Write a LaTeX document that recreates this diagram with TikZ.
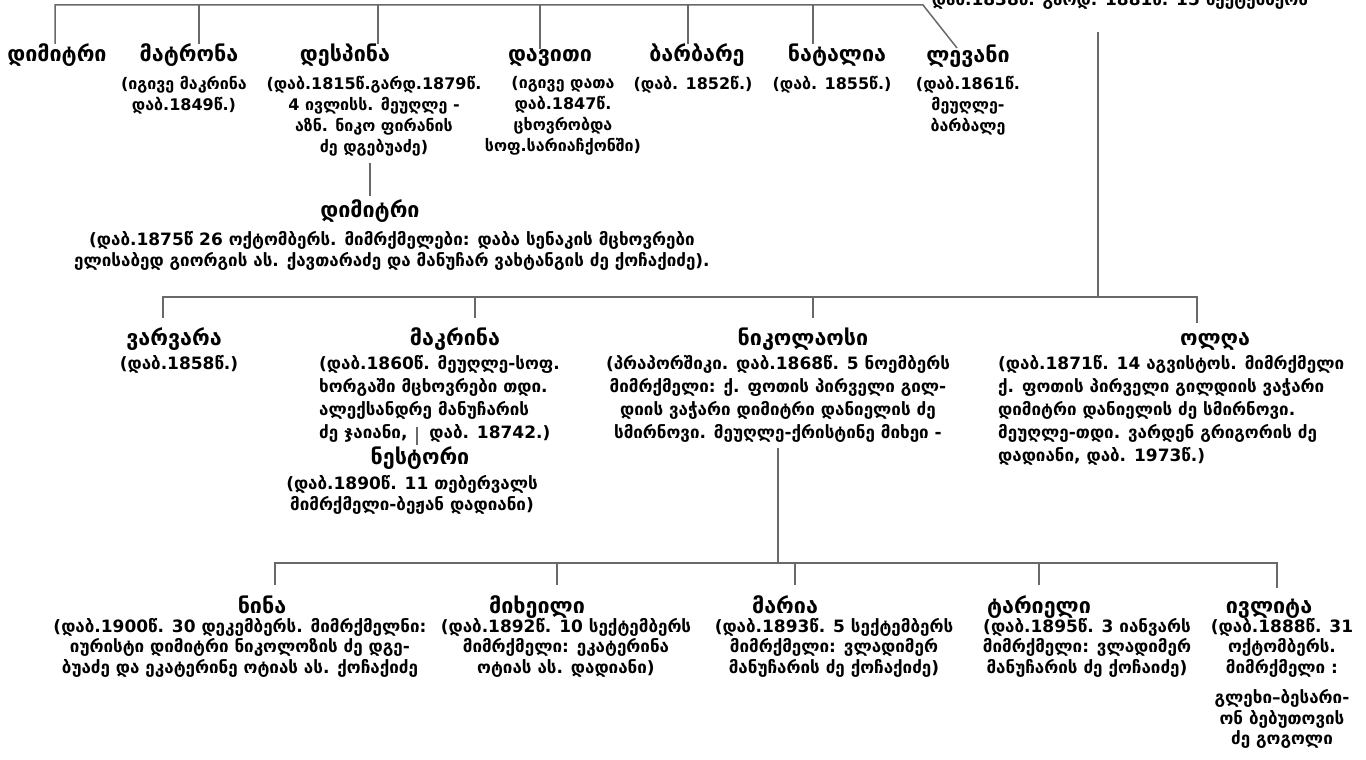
\documentclass[tikz,border=0pt]{standalone}
\usepackage{fontspec}
\newfontfamily\geo{DejaVu Sans}
\definecolor{linegray}{RGB}{105,105,105}
\begin{document}
\begin{tikzpicture}[x=1pt,y=-1pt,
  pname/.style={font=\geo\bfseries\fontsize{21.5}{24}\selectfont, inner sep=0pt, anchor=base},
  pinfo/.style={font=\geo\bfseries\fontsize{17}{21}\selectfont, inner sep=0pt, align=center, anchor=north},
  infoA/.style={pinfo, font=\geo\bfseries\fontsize{16}{21}\selectfont},
  infoB/.style={pinfo, font=\geo\bfseries\fontsize{17}{23}\selectfont},
  infoC/.style={pinfo, font=\geo\bfseries\fontsize{17}{20.5}\selectfont},
  tree/.style={draw=linegray, line width=1.5pt},
]
\useasboundingbox (0,0) rectangle (1366,760);
% header (clipped at top, as in the reference)
\node[pinfo, anchor=base] (hdr) at (1120,6) {დაბ.1838წ. გარდ. 1881წ. 15 სექტემბერს};
% ---------- generation 1
\node[pname] (n11) at (57,62) {დიმიტრი};
\node[pname] (n12) at (189,62) {მატრონა};
\node[pname] (n13) at (345,62) {დესპინა};
\node[pname] (n14) at (550,62) {დავითი};
\node[pname] (n15) at (697,62) {ბარბარე};
\node[pname] (n16) at (837,62) {ნატალია};
\node[pname] (n17) at (968,63) {ლევანი};
\node[infoA] (i12) at (184,76) {(იგივე მაკრინა\\დაბ.1849წ.)};
\node[infoA] (i13) at (374,76) {(დაბ.1815წ.გარდ.1879წ.\\4 ივლისს. მეუღლე -\\აზნ. ნიკო ფირანის\\ძე დგებუაძე)};
\node[infoA] (i14) at (563,76) {(იგივე დათა\\დაბ.1847წ.\\ცხოვრობდა\\სოფ.სარიაჩქონში)};
\node[infoA] (i15) at (693,76) {(დაბ. 1852წ.)};
\node[infoA] (i16) at (832,76) {(დაბ. 1855წ.)};
\node[infoA] (i17) at (968,76) {(დაბ.1861წ.\\მეუღლე-\\ბარბალე};
\coordinate (t0) at (55,5);
\coordinate (t1) at (199,5);
\coordinate (t2) at (378,5);
\coordinate (t3) at (540,5);
\coordinate (t4) at (688,5);
\coordinate (t5) at (813,5);
\coordinate (tE) at (923,5);
\coordinate (levtop) at (957,48);
\draw[tree] (t0 |- n11.north) -- (t0) -- (tE) -- (levtop);
\draw[tree] (t1) -- (t1 |- n12.north);
\draw[tree] (t2) -- (t2 |- n13.north);
\draw[tree] (t3) -- (t3 |- n14.north);
\draw[tree] (t4) -- (t4 |- n15.north);
\draw[tree] (t5) -- (t5 |- n16.north);
% ---------- Dimitri (son of Despina)
\node[pname] (n2) at (370,217) {დიმიტრი};
\node[pinfo] (i2) at (392,231) {(დაბ.1875წ 26 ოქტომბერს. მიმრქმელები: დაბა სენაკის მცხოვრები\\ელისაბედ გიორგის ას. ქავთარაძე და მანუჩარ ვახტანგის ძე ქოჩაქიძე).};
\coordinate (ds) at (370,163);
\draw[tree] (ds) -- ([yshift=3pt]n2.north -| ds);
% ---------- trunk
\coordinate (trTop) at (1098,32);
\coordinate (trBot) at (1098,297);
\draw[tree] (trTop) -- (trBot);
% ---------- generation 2
\node[pname] (n21) at (174,345) {ვარვარა};
\node[pname] (n22) at (455,345) {მაკრინა};
\node[pname] (n23) at (803,345) {ნიკოლაოსი};
\node[pname] (n24) at (1215,345) {ოლღა};
\node[infoB] (i21) at (179,355) {(დაბ.1858წ.)};
\node[infoB, align=left, anchor=north west] (i22) at (319,355) {(დაბ.1860წ. მეუღლე-სოფ.\\ხორგაში მცხოვრები თდი.\\ალექსანდრე მანუჩარის\\ძე ჯაიანი,\hspace{22pt}დაბ. 18742.)};
\node[infoB] (i23) at (778,355) {(პრაპორშიკი. დაბ.1868წ. 5 ნოემბერს\\მიმრქმელი: ქ. ფოთის პირველი გილ-\\დიის ვაჭარი დიმიტრი დანიელის ძე\\სმირნოვი. მეუღლე-ქრისტინე მიხეი -};
\node[infoB, align=left, anchor=north west] (i24) at (998,355) {(დაბ.1871წ. 14 აგვისტოს. მიმრქმელი\\ქ. ფოთის პირველი გილდიის ვაჭარი\\დიმიტრი დანიელის ძე სმირნოვი.\\მეუღლე-თდი. ვარდენ გრიგორის ძე\\დადიანი, დაბ. 1973წ.)};
\coordinate (r0) at (163,297);
\coordinate (r1) at (475,297);
\coordinate (r2) at (813,297);
\coordinate (r3) at (1197,297);
\draw[tree] ([yshift=9pt]r0 |- n21.north) -- (r0) -- (r3) -- ([yshift=9pt]r3 |- n24.north);
\draw[tree] (r1) -- ([yshift=9pt]r1 |- n22.north);
\draw[tree] (r2) -- ([yshift=9pt]r2 |- n23.north);
% ---------- Nestori
\node[pname] (n3) at (420,464) {ნესტორი};
\node[pinfo] (i3) at (412,475) {(დაბ.1890წ. 11 თებერვალს\\მიმრქმელი-ბეჟან დადიანი)};
\coordinate (mk) at (417,427);
\draw[tree] (mk) -- ([yshift=1pt]n3.north -| mk);
% ---------- generation 3
\coordinate (nk) at (778,448);
\coordinate (s0) at (275,563);
\coordinate (s1) at (557,563);
\coordinate (s2) at (778,563);
\coordinate (s3) at (795,563);
\coordinate (s4) at (1039,563);
\coordinate (s5) at (1277,563);
\draw[tree] (nk) -- (s2);
\node[pname] (n31) at (262,613) {ნინა};
\node[pname] (n32) at (537,613) {მიხეილი};
\node[pname] (n33) at (785,613) {მარია};
\node[pname] (n34) at (1039,613) {ტარიელი};
\node[pname] (n35) at (1269,613) {ივლიტა};
\node[infoC] (i31) at (240,618) {(დაბ.1900წ. 30 დეკემბერს. მიმრქმელნი:\\იურისტი დიმიტრი ნიკოლოზის ძე დგე-\\ბუაძე და ეკატერინე ოტიას ას. ქოჩაქიძე};
\node[infoC] (i32) at (566,618) {(დაბ.1892წ. 10 სექტემბერს\\მიმრქმელი: ეკატერინა\\ოტიას ას. დადიანი)};
\node[infoC] (i33) at (834,618) {(დაბ.1893წ. 5 სექტემბერს\\მიმრქმელი: ვლადიმერ\\მანუჩარის ძე ქოჩაქიძე)};
\node[infoC] (i34) at (1087,618) {(დაბ.1895წ. 3 იანვარს\\მიმრქმელი: ვლადიმერ\\მანუჩარის ძე ქოჩაიძე)};
\node[infoC] (i35) at (1282,618) {(დაბ.1888წ. 31\\ოქტომბერს.\\მიმრქმელი :\\[10pt]გლეხი–ბესარი-\\ონ ბებუთოვის\\ძე გოგოლი};
\draw[tree] ([yshift=10pt]s0 |- n31.north) -- (s0) -- (s5) -- ([yshift=10pt]s5 |- n35.north);
\draw[tree] (s1) -- ([yshift=10pt]s1 |- n32.north);
\draw[tree] (s3) -- ([yshift=10pt]s3 |- n33.north);
\draw[tree] (s4) -- ([yshift=10pt]s4 |- n34.north);
\end{tikzpicture}
\end{document}
